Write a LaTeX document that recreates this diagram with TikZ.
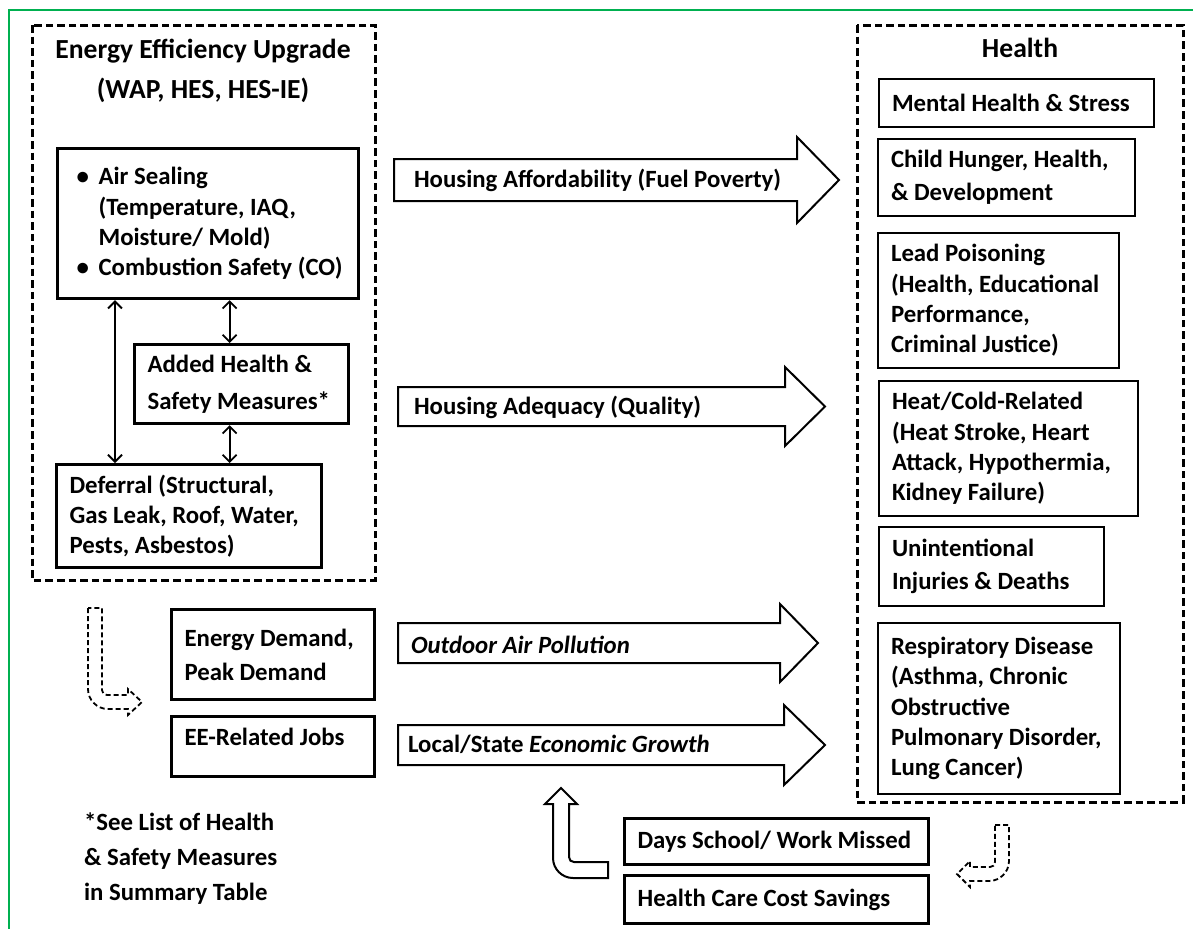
\documentclass[tikz,border=0pt]{standalone}
\usepackage{fontspec}
\setmainfont{Carlito}
\usetikzlibrary{arrows.meta}
\newcommand{\fatarrow}[6]{%
  \draw[fat] (#1,#4-#5) -- (#2,#4-#5) -- (#2,#4-#6) -- (#3,#4)
    -- (#2,#4+#6) -- (#2,#4+#5) -- (#1,#4+#5) -- cycle;}
\newcommand{\bul}{\makebox[14pt][l]{\hspace{3pt}\textbullet}}
\newcommand{\ind}{\hspace*{14pt}}

\begin{document}
\begin{tikzpicture}[x=0.5pt, y=-0.5pt,
    every node/.style={font=\fontsize{12.4}{15.2}\selectfont\bfseries},
    box/.style={draw, line width=1.6pt, anchor=north west, align=flush left, inner xsep=6.5pt, inner ysep=0pt},
    hbox/.style={box, line width=1pt},
    group/.style={draw, line width=1.5pt, dash pattern=on 3.8pt off 2pt},
    grouptitle/.style={font=\fontsize{13.8}{20}\selectfont\bfseries, align=flush center},
    fat/.style={line width=1pt},
    bent/.style={line width=0.9pt, dash pattern=on 2.5pt off 1.5pt},
    dbl/.style={{Straight Barb[length=3.5pt,width=7pt]}-{Straight Barb[length=3.5pt,width=7pt]}, line width=0.9pt}]
  \useasboundingbox (0,0) rectangle (1193,928);
  \draw[line width=1pt, color={rgb,255:red,0;green,176;blue,80}] (9,940) -- (9,10) -- (1200,10);

  % left group
  \draw[group] (32,25) rectangle (375,580);
  \node[grouptitle] (eetitle) at (203,71) {Energy Efficiency Upgrade\\(WAP, HES, HES-IE)};
  \node[box, text width=137.5pt, minimum height=75pt] (airseal) at (56,147)
    {\bul Air Sealing\\ \ind(Temperature, IAQ,\\ \ind Moisture/ Mold)\\ \bul Combustion Safety (CO)};
  \node[box, text width=94pt, minimum height=39.5pt] (added) at (133,343)
    {Added Health \&\\[3.5pt]Safety Measures*};
  \node[box, text width=119.5pt, minimum height=51.5pt] (deferral) at (55,463)
    {Deferral (Structural,\\Gas Leak, Roof, Water,\\Pests, Asbestos)};
  \draw[dbl] ([xshift=29.5pt]airseal.south west) -- ([xshift=29.5pt]airseal.south west |- deferral.north);
  \draw[dbl] ([xshift=-6pt]added.north) -- ([xshift=-6pt]added.north |- airseal.south);
  \draw[dbl] ([xshift=-6pt]added.south) -- ([xshift=-6pt]added.south |- deferral.north);

  % right group
  \draw[group] (857,25) rectangle (1183,802);
  \node[grouptitle] (healthtitle) at (1020,48) {Health};
  \node[hbox, text width=124.5pt, minimum height=24pt] (mental) at (878,78) {Mental Health \& Stress};
  \node[hbox, text width=115.5pt, minimum height=38.5pt] (child) at (877,138)
    {Child Hunger, Health,\\[1.5pt]\& Development};
  \node[hbox, text width=107.5pt, minimum height=67.5pt] (lead) at (877,232)
    {Lead Poisoning\\(Health, Educational\\Performance,\\Criminal Justice)};
  \node[hbox, text width=116.5pt, minimum height=67.5pt] (heat) at (878,380)
    {Heat/Cold-Related\\(Heat Stroke, Heart\\Attack, Hypothermia,\\Kidney Failure)};
  \node[hbox, text width=99.5pt, minimum height=39.5pt] (unint) at (878,526)
    {Unintentional\\[1.5pt]Injuries \& Deaths};
  \node[hbox, text width=108pt, minimum height=85.5pt] (resp) at (877,622)
    {Respiratory Disease\\(Asthma, Chronic\\Obstructive\\Pulmonary Disorder,\\Lung Cancer)};

  % pathways
  \fatarrow{394}{797}{839}{180}{21}{43}
  \fatarrow{398}{785}{825}{406.5}{19.5}{39.5}
  \fatarrow{398}{780}{818}{643}{20}{39}
  \fatarrow{398}{784}{825}{745}{20}{40}
  \node[anchor=west] (afford) at (407,180) {Housing Affordability (Fuel Poverty)};
  \node[anchor=west] (adequacy) at (407,407) {Housing Adequacy (Quality)};
  \node[anchor=west] (pollution) at (404,645) {\textit{Outdoor Air Pollution}};
  \node[anchor=west] (growth) at (401,744) {Local/State \textit{Economic Growth}};

  % other outcomes
  \node[box, text width=88.5pt, minimum height=45pt] (demand) at (170,608)
    {Energy Demand,\\[2pt]Peak Demand};
  \node[box, text width=88.5pt, minimum height=30pt, text depth=10pt] (jobs) at (170,715) {EE-Related Jobs};
  \node[box, text width=139pt, minimum height=23pt] (days) at (623,817) {Days School/ Work Missed};
  \node[box, text width=139pt, minimum height=24pt] (care) at (623,874) {Health Care Cost Savings};
  \node[anchor=west, align=flush left, font=\fontsize{12.4}{17.5}\selectfont\bfseries] (note) at (77,859)
    {*See List of Health\\\& Safety Measures\\in Summary Table};

  % bent arrows
  \draw[bent] (88,608) -- (88,689) .. controls (88,700) and (97,709) .. (108,709) -- (128,709)
    -- (128,715) -- (142,702) -- (128,689) -- (128,695) -- (107,695)
    .. controls (104,695) and (102,693) .. (102,690) -- (102,608) -- cycle;
  \draw[fat] (561,788) -- (577,804) -- (569,804) -- (569,857) .. controls (569,860) and (571,862) .. (574,862)
    -- (608,862) -- (608,878) -- (573,878) .. controls (562,878) and (553,869) .. (553,858)
    -- (553,804) -- (545,804) -- cycle;
  \draw[bent] (995,825) -- (1009,825) -- (1009,861) .. controls (1009,872) and (1000,881) .. (989,881)
    -- (970,881) -- (970,887) -- (957,874) -- (970,861) -- (970,867) -- (990,867)
    .. controls (993,867) and (995,865) .. (995,862) -- cycle;
\end{tikzpicture}
\end{document}
